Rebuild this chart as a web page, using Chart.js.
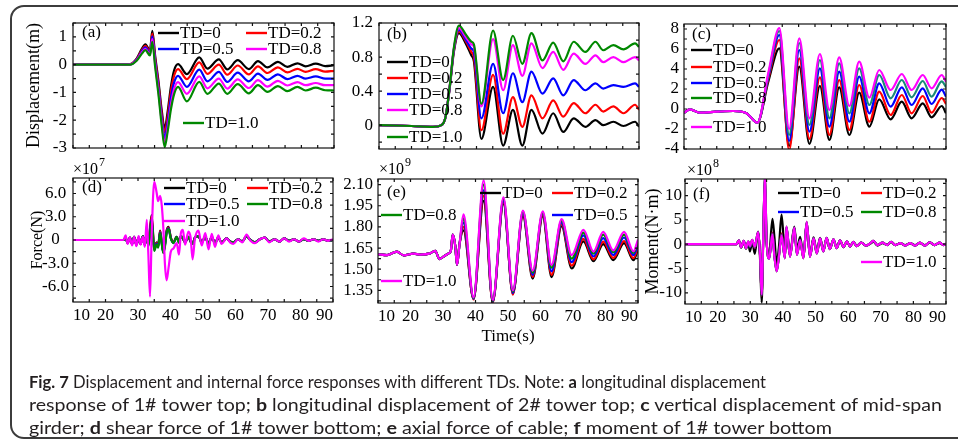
<!DOCTYPE html>
<html><head><meta charset="utf-8">
<script src="https://cdn.jsdelivr.net/npm/chart.js@4.4.1/dist/chart.umd.min.js"></script>
<style>
html,body{margin:0;padding:0;background:#fff;width:958px;height:443px;overflow:hidden;}
#frame{position:absolute;left:10px;top:5px;width:1000px;height:434px;border:2px solid #3c3c3c;border-radius:14px;box-sizing:border-box;}
canvas{position:absolute;left:0;top:0;}
#cap{position:absolute;left:29px;top:370px;font-family:Lato,'Open Sans',sans-serif;font-size:17px;line-height:23px;color:#231f20;white-space:nowrap;}
#cap span{display:block;width:max-content;transform-origin:0 0;}
</style></head><body>
<div id="frame"></div>
<canvas id="pa" width="958" height="443"></canvas>
<canvas id="pb" width="958" height="443"></canvas>
<canvas id="pc" width="958" height="443"></canvas>
<canvas id="pd" width="958" height="443"></canvas>
<canvas id="pe" width="958" height="443"></canvas>
<canvas id="pf" width="958" height="443"></canvas>
<div id="cap"><span><b>Fig. 7</b> Displacement and internal force responses with different TDs. Note: <b>a</b> longitudinal displacement</span><span>response of 1# tower top; <b>b</b> longitudinal displacement of 2# tower top; <b>c</b> vertical displacement of mid-span</span><span>girder; <b>d</b> shear force of 1# tower bottom; <b>e</b> axial force of cable; <b>f</b> moment of 1# tower bottom</span></div>
<script>
// ---------- shared ----------
const seriesNames = ['TD=0', 'TD=0.2', 'TD=0.5', 'TD=0.8', 'TD=1.0'];
const xTicks = [10, 20, 30, 40, 50, 60, 70, 80, 90];

// ---------- (a) longitudinal displacement 1# tower top (m) ----------
const aTime = [10, 20, 27.5, 29.5, 31, 32.2, 33.6, 34.3, 35.2, 36.2, 37.2, 38.1, 39, 40, 41, 42.2, 44.9, 48.7, 51.2, 54.7, 57.3, 60.5, 63.9, 66.7, 69.6, 72.8, 75.7, 78.8, 81.3, 84.4, 87.3, 90];
const aTD0  = [0, 0, 0.02, 0.22, 0.55, 0.73, 0.5, 1.22, 0.3, -0.6, -1.65, -2.3, -1.7, -0.8, -0.2, 0.02, -0.34, 0.26, -0.14, 0.19, -0.17, 0.16, -0.16, 0.13, -0.1, 0.1, -0.08, 0.05, -0.06, 0.04, -0.05, -0.02];
const aTD02 = [0, 0, 0.02, 0.2, 0.5, 0.68, 0.45, 1.12, 0.2, -0.72, -1.78, -2.45, -1.88, -0.98, -0.4, -0.16, -0.52, 0.08, -0.33, 0.0, -0.36, -0.03, -0.35, -0.06, -0.3, -0.1, -0.28, -0.15, -0.26, -0.16, -0.25, -0.22];
const aTD05 = [0, 0, 0.01, 0.18, 0.46, 0.62, 0.4, 1.02, 0.1, -0.84, -1.93, -2.65, -2.08, -1.2, -0.64, -0.4, -0.8, -0.18, -0.6, -0.26, -0.62, -0.29, -0.6, -0.32, -0.55, -0.35, -0.52, -0.4, -0.5, -0.42, -0.5, -0.5];
const aTD08 = [0, 0, 0.01, 0.16, 0.42, 0.57, 0.36, 0.92, 0.0, -0.96, -2.08, -2.85, -2.28, -1.45, -0.87, -0.63, -1.05, -0.42, -0.85, -0.5, -0.86, -0.53, -0.84, -0.56, -0.79, -0.58, -0.75, -0.63, -0.74, -0.66, -0.74, -0.74];
const aTD10 = [0, 0, 0.0, 0.14, 0.38, 0.52, 0.33, 0.82, -0.1, -1.08, -2.2, -2.97, -2.42, -1.62, -1.06, -0.8, -1.32, -0.62, -1.05, -0.68, -1.05, -0.7, -1.03, -0.74, -0.98, -0.77, -0.95, -0.8, -0.93, -0.83, -0.92, -0.93];
const aYTicks = [-3, -2, -1, 0, 1];
const aYLabels = ['-3', '-2', '-1', '0', '1'];

// ---------- (b) longitudinal displacement 2# tower top (m) ----------
const bTime = [10, 20, 26.6, 29.2, 30.5, 31.8, 33, 34.6, 36.8, 38.4, 39.2, 41.5, 45.1, 48.2, 51.2, 54.1, 56.9, 60.3, 63.6, 66.7, 69.9, 73.5, 76.6, 79, 82.1, 85.2, 88.8, 90];
const bTD0  = [0, -0.01, -0.02, 0, 0.1, 0.45, 0.85, 1.08, 0.95, 0.82, 0.75, -0.16, 0.45, -0.24, 0.18, -0.24, 0.18, -0.1, 0.14, -0.08, 0.08, -0.02, 0.06, 0.0, 0.04, -0.01, 0.04, -0.02];
const bTD02 = [0, -0.01, -0.02, 0, 0.1, 0.46, 0.87, 1.1, 0.98, 0.86, 0.8, -0.06, 0.59, -0.1, 0.33, -0.02, 0.35, 0.08, 0.29, 0.1, 0.26, 0.14, 0.24, 0.16, 0.22, 0.14, 0.24, 0.18];
const bTD05 = [0, -0.01, -0.02, 0, 0.1, 0.46, 0.88, 1.12, 1.0, 0.9, 0.86, 0.08, 0.72, 0.14, 0.61, 0.27, 0.63, 0.37, 0.55, 0.35, 0.53, 0.41, 0.49, 0.43, 0.47, 0.45, 0.49, 0.45];
const bTD08 = [0, -0.01, -0.02, 0, 0.1, 0.47, 0.89, 1.14, 1.03, 0.95, 0.92, 0.22, 1.01, 0.41, 0.94, 0.58, 0.96, 0.67, 0.86, 0.65, 0.84, 0.72, 0.82, 0.74, 0.8, 0.74, 0.8, 0.76];
const bTD10 = [0, -0.01, -0.02, 0, 0.1, 0.47, 0.9, 1.17, 1.06, 0.98, 0.95, 0.25, 1.11, 0.53, 1.05, 0.72, 1.08, 0.76, 0.97, 0.75, 0.98, 0.86, 0.98, 0.88, 0.94, 0.89, 0.96, 0.92];
const bYTicks = [0, 0.4, 0.8, 1.2];
const bYLabels = ['0', '0.4', '0.8', '1.2'];

// ---------- (c) vertical displacement mid-span girder (m) ----------
const cTime = [10, 11.8, 14.8, 19.9, 25, 29.1, 32.4, 35.8, 39.1, 42.1, 45.2, 48.3, 51.5, 54.4, 57.4, 60.5, 63.5, 66.6, 69.6, 73.1, 76.5, 79.5, 82.9, 85.6, 88.7, 90];
const cTD0  = [-0.37, -0.03, -0.37, -0.27, -0.2, -0.43, -1.37, 2.8, 6.07, -3.7, 4.23, -3.5, 2.3, -3.1, 2.17, -2.6, 1.63, -1.77, 0.97, -1.03, 0.73, -0.93, 0.57, -0.83, 0.3, -0.43];
const cTD02 = [-0.37, -0.03, -0.37, -0.27, -0.2, -0.43, -1.37, 3.1, 6.9, -4.1, 5.07, -3.0, 3.17, -2.6, 2.9, -2.1, 2.4, -1.27, 1.73, -0.6, 1.4, -0.43, 1.3, -0.37, 1.1, 0.5];
const cTD05 = [-0.37, -0.03, -0.37, -0.27, -0.2, -0.43, -1.37, 3.3, 7.4, -3.2, 5.9, -2.27, 4.07, -1.77, 3.73, -1.27, 3.23, -0.43, 2.57, 0.23, 2.17, 0.4, 2.07, 0.5, 1.93, 1.23];
const cTD08 = [-0.37, -0.03, -0.37, -0.27, -0.2, -0.43, -1.37, 3.5, 7.8, -2.6, 6.6, -1.6, 4.9, -0.93, 4.57, -0.43, 4.07, 0.4, 3.4, 1.07, 2.9, 1.17, 2.8, 1.23, 2.77, 2.17];
const cTD10 = [-0.37, -0.03, -0.37, -0.27, -0.2, -0.43, -1.37, 3.7, 8.1, -2.0, 7.07, -0.93, 5.5, -0.1, 5.17, 0.3, 4.73, 1.13, 3.9, 1.9, 3.5, 1.9, 3.4, 2.07, 3.4, 2.73];
const cYTicks = [-4, -2, 0, 2, 4, 6, 8];
const cYLabels = ['-4', '-2', '0', '2', '4', '6', '8'];

// ---------- (d) shear force 1# tower bottom (x1e7 N) ----------
const dTime = [10, 25.5, 26.2, 26.8, 27.5, 28.2, 28.8, 29.5, 30.2, 30.8,
  31.5, 32.1, 32.7, 33.2, 33.7, 34.2, 35.0, 35.7, 36.2, 36.8,
  37.3, 37.8, 38.3, 38.8, 39.4, 40.1, 40.9, 41.9, 42.6, 43.2,
  43.8, 44.5, 45.5, 46.2, 46.8, 47.5, 48.6, 49.6, 50.7, 51.7,
  52.7, 53.7, 54.7, 55.7, 57.3, 58.3, 59.3, 60.8, 62.1, 63.4,
  64.6, 66, 67.5, 69, 70.4, 72, 73.5, 75, 76.5, 78,
  79.5, 81, 82.5, 84, 85.5, 87, 88.5, 90];
const dTD0 = [0, 0, 0.3, -0.4, 0.3, -0.5, 0.4, -0.6, 0.3, -0.5,
  0.5, -0.6, 0.8, -0.5, 1.5, 3.2, -1.0, -0.3, -0.7, 1.2,
  -0.2, -1.5, -0.5, 1.2, 1.7, 0.3, -0.3, 0.4, -0.3, 0.5,
  0.2, -0.3, 0.4, -0.2, -0.5, 0.3, 0.5, -0.3, 0.4, -0.5,
  0.4, -0.4, 0.3, -0.3, 0.2, -0.2, -0.3, 0.1, -0.2, 0.5,
  0.0, -0.3, 0.1, 0.3, -0.2, 0.1, -0.2, 0.2, -0.1, 0.1,
  -0.2, 0.1, -0.1, 0.1, -0.1, 0.1, -0.1, 0];
const dTD02 = [0, 0, 0.3, -0.4, 0.3, -0.5, 0.4, -0.6, 0.3, -0.5,
  0.5, -0.6, 0.7, -0.6, 1.3, 3.0, -1.1, -0.4, -0.8, 1.1,
  -0.3, -1.5, -0.6, 1.1, 1.6, 0.3, -0.3, 0.4, -0.3, 0.5,
  0.2, -0.3, 0.4, -0.2, -0.5, 0.3, 0.5, -0.3, 0.4, -0.5,
  0.4, -0.4, 0.3, -0.3, 0.2, -0.2, -0.3, 0.1, -0.2, 0.5,
  0.0, -0.3, 0.1, 0.3, -0.2, 0.1, -0.2, 0.2, -0.1, 0.1,
  -0.2, 0.1, -0.1, 0.1, -0.1, 0.1, -0.1, 0];
const dTD05 = [0, 0, 0.3, -0.4, 0.3, -0.5, 0.4, -0.6, 0.3, -0.5,
  0.5, -0.6, 0.6, -0.7, 1.0, 2.7, -1.3, -0.5, -0.9, 1.0,
  -0.4, -1.6, -0.7, 1.0, 1.5, 0.2, -0.4, 0.4, -0.3, 0.5,
  0.2, -0.3, 0.4, -0.2, -0.5, 0.3, 0.5, -0.3, 0.4, -0.5,
  0.4, -0.4, 0.3, -0.3, 0.2, -0.2, -0.3, 0.1, -0.2, 0.5,
  0.0, -0.3, 0.1, 0.3, -0.2, 0.1, -0.2, 0.2, -0.1, 0.1,
  -0.2, 0.1, -0.1, 0.1, -0.1, 0.1, -0.1, 0];
const dTD08 = [0, 0, 0.3, -0.4, 0.3, -0.5, 0.4, -0.6, 0.3, -0.5,
  0.5, -0.6, 0.5, -0.8, 0.8, 2.4, -1.4, -0.6, -1.0, 0.9,
  -0.5, -1.7, -0.8, 0.9, 1.4, 0.2, -0.4, 0.4, -0.3, 0.5,
  0.2, -0.3, 0.4, -0.2, -0.5, 0.3, 0.5, -0.3, 0.4, -0.5,
  0.4, -0.4, 0.3, -0.3, 0.2, -0.2, -0.3, 0.1, -0.2, 0.5,
  0.0, -0.3, 0.1, 0.3, -0.2, 0.1, -0.2, 0.2, -0.1, 0.1,
  -0.2, 0.1, -0.1, 0.1, -0.1, 0.1, -0.1, 0];
const dTD10 = [0, 0, 0.6, -0.5, 0.3, -0.7, 0.4, -0.8, 0.5, -0.6,
  0.4, -0.9, 2.6, -2.0, -7.3, 0.5, 7.5, 6.2, 5.0, 5.7,
  4.5, 1.5, -3.2, -5.2, -3.6, -1.5, -1.1, -0.4, -1.9, 0.9,
  1.3, -0.6, 1.1, 0.3, -2.5, 0.1, 1.2, -0.7, 0.9, -1.2,
  0.8, -0.9, 0.6, -0.5, 0.2, -0.3, -0.5, 0.1, -0.3, 0.7,
  -0.1, -0.4, 0.1, 0.3, -0.3, 0.1, -0.2, 0.2, -0.2, 0.1,
  -0.2, 0.2, -0.1, 0.1, -0.2, 0.1, -0.1, 0.1];
const dYTicks = [-6, -3, 0, 3, 6];
const dYLabels = ['-6.0', '-3.0', '0', '3.0', '6.0'];

// ---------- (e) axial force of cable (x1e9 N) ----------
const eTime = [10, 12.8, 15.8, 17.9, 20.9, 23, 26, 27.6, 28.9, 30.2, 31.7, 32.4, 33.0, 33.8, 34.3, 35.1, 36.3, 39.4, 42.5, 45.3, 48.6, 51.5, 54.6, 57.6, 60.7, 63.4, 66.5, 69.6, 73.2, 76.3, 79.3, 82.4, 85.7, 88.6, 90];
const eTD0  = [1.606, 1.600, 1.625, 1.598, 1.61, 1.604, 1.612, 1.63, 1.572, 1.59, 1.612, 1.63, 1.745, 1.66, 1.53, 1.68, 1.775, 1.29, 1.985, 1.27, 1.965, 1.325, 1.877, 1.433, 1.877, 1.444, 1.805, 1.505, 1.697, 1.557, 1.678, 1.564, 1.685, 1.564, 1.64];
const eTD02 = [1.606, 1.600, 1.625, 1.598, 1.61, 1.604, 1.612, 1.63, 1.572, 1.59, 1.612, 1.63, 1.745, 1.66, 1.53, 1.68, 1.80, 1.285, 2.02, 1.262, 1.975, 1.32, 1.89, 1.445, 1.885, 1.46, 1.818, 1.525, 1.715, 1.57, 1.695, 1.58, 1.70, 1.578, 1.655];
const eTD05 = [1.606, 1.600, 1.625, 1.598, 1.61, 1.604, 1.612, 1.63, 1.572, 1.59, 1.612, 1.63, 1.745, 1.66, 1.53, 1.68, 1.83, 1.29, 2.06, 1.27, 1.985, 1.33, 1.90, 1.46, 1.895, 1.485, 1.83, 1.55, 1.74, 1.59, 1.72, 1.60, 1.725, 1.60, 1.675];
const eTD08 = [1.606, 1.600, 1.625, 1.598, 1.61, 1.604, 1.612, 1.63, 1.572, 1.59, 1.612, 1.63, 1.745, 1.66, 1.53, 1.68, 1.86, 1.295, 2.10, 1.275, 2.0, 1.34, 1.91, 1.475, 1.90, 1.51, 1.845, 1.575, 1.76, 1.61, 1.745, 1.62, 1.745, 1.615, 1.695];
const eTD10 = [1.606, 1.600, 1.625, 1.598, 1.61, 1.604, 1.612, 1.63, 1.572, 1.59, 1.612, 1.63, 1.745, 1.66, 1.53, 1.68, 1.89, 1.30, 2.13, 1.28, 2.01, 1.35, 1.915, 1.49, 1.91, 1.53, 1.855, 1.60, 1.78, 1.625, 1.765, 1.633, 1.765, 1.627, 1.71];
const eYTicks = [1.35, 1.5, 1.65, 1.8, 1.95, 2.1];
const eYLabels = ['1.35', '1.50', '1.65', '1.80', '1.95', '2.10'];

// ---------- (f) moment of 1# tower bottom (x1e8 N·m) ----------
const fTime = [10, 25.8, 26.5, 27.2, 28, 28.7, 29.4, 29.9, 30.6, 31.4,
  32.4, 33.0, 33.5, 34.0, 34.5, 35.0, 35.8, 36.8, 37.4, 38.1,
  38.8, 39.6, 40.6, 41.1, 42.2, 43.5, 44.3, 45.3, 46.3, 47.3,
  48.3, 49.4, 50.4, 51.4, 52.4, 53.4, 54.4, 55.5, 56.5, 57.5,
  58.6, 59.6, 60.6, 61.6, 62.6, 64, 65.5, 67, 67.7, 69,
  70.5, 72, 73.2, 74.5, 76, 77.5, 79, 80.5, 82, 83.5,
  85, 86.5, 88, 89.3, 90];
const fTD0 = [0, 0, 0.7, -0.7, 0.5, -0.9, 0.3, -1.5, 0.5, -2.0,
  2.6, -3.0, -12.0, 1.5, 12.5, 0.5, -2.0, 5.2, 1.5, -4.0,
  -0.5, 6.1, -1.5, 2.5, -2.0, 3.6, -1.0, 1.5, -2.5, 4.2,
  -2.2, 1.4, -1.6, 1.3, -1.3, 1.2, -0.9, 0.9, -0.7, 0.7,
  -0.6, 0.5, -0.4, 0.4, -0.3, 0.3, -0.3, 0.2, 0.5, -0.3,
  0.2, -0.1, 0.4, -0.2, 0.2, -0.2, 0.2, -0.2, 0.2, -0.2,
  0.3, -0.2, 0.2, -0.1, 0];
const fTD02 = [0, 0, 0.8, -0.6, 0.7, -0.8, 0.5, -0.6, 0.8, -0.8,
  2.5, -2.2, -10.6, 2.0, 13.5, 1.0, -2.8, 2.4, -2.2, -5.4,
  -2.2, 2.2, -2.7, 3.4, -2.5, 3.4, -2.0, 0.9, -2.8, 4.5,
  -2.5, 1.2, -1.9, 1.2, -1.5, 1.3, -1.0, 1.0, -0.8, 0.8,
  -0.6, 0.6, -0.5, 0.5, -0.4, 0.3, -0.3, 0.3, 0.7, -0.2,
  0.3, -0.2, 0.5, -0.2, 0.2, -0.3, 0.2, -0.3, 0.3, -0.3,
  0.4, -0.2, 0.3, -0.2, 0.1];
const fTD05 = [0, 0, 0.8, -0.6, 0.7, -0.8, 0.5, -0.6, 0.8, -0.7,
  2.5, -2.1, -10.5, 2.0, 13.5, 1.0, -2.9, 2.2, -2.3, -5.5,
  -2.3, 2.0, -2.8, 3.5, -2.5, 3.4, -2.1, 0.9, -2.8, 4.5,
  -2.5, 1.2, -1.9, 1.2, -1.5, 1.3, -1.0, 1.0, -0.8, 0.8,
  -0.6, 0.6, -0.5, 0.5, -0.4, 0.3, -0.3, 0.3, 0.7, -0.2,
  0.3, -0.2, 0.5, -0.2, 0.2, -0.3, 0.2, -0.3, 0.3, -0.3,
  0.4, -0.2, 0.3, -0.2, 0.1];
const fTD08 = [0, 0, 0.8, -0.6, 0.7, -0.8, 0.6, -0.5, 0.9, -0.6,
  2.5, -2.0, -10.4, 2.0, 13.5, 1.0, -3.0, 2.1, -2.4, -5.6,
  -2.4, 1.9, -2.9, 3.6, -2.6, 3.4, -2.2, 0.8, -2.9, 4.6,
  -2.6, 1.2, -1.9, 1.2, -1.5, 1.3, -1.0, 1.0, -0.8, 0.8,
  -0.6, 0.6, -0.5, 0.5, -0.4, 0.3, -0.3, 0.3, 0.7, -0.2,
  0.3, -0.2, 0.5, -0.2, 0.2, -0.3, 0.2, -0.3, 0.3, -0.3,
  0.4, -0.2, 0.3, -0.2, 0.1];
const fTD10 = [0, 0, 0.8, -0.6, 0.7, -0.8, 0.6, -0.4, 0.9, -0.5,
  2.5, -2.0, -10.3, 2.0, 13.5, 1.0, -3.0, 2.0, -2.5, -5.6,
  -2.5, 1.8, -2.9, 3.6, -2.6, 3.4, -2.2, 0.8, -2.9, 4.6,
  -2.6, 1.2, -1.9, 1.2, -1.5, 1.3, -1.0, 1.0, -0.8, 0.8,
  -0.6, 0.6, -0.5, 0.5, -0.4, 0.3, -0.3, 0.3, 0.7, -0.2,
  0.3, -0.2, 0.5, -0.2, 0.2, -0.3, 0.2, -0.3, 0.3, -0.3,
  0.4, -0.2, 0.3, -0.2, 0.1];
const fYTicks = [-10, -5, 0, 5, 10];
const fYLabels = ['-10', '-5', '0', '5', '10'];

// ---------- drawing ----------
const SERIF = "'Liberation Serif','Times New Roman',serif";
const BLK = '#000000', RED = '#ff0000', BLU = '#0000ff', MAG = '#ff00ff', GRN = '#008800';

const decoPlugin = {
  id: 'deco',
  afterDatasetsDraw(chart, args, o) {
    const ctx = chart.ctx, ca = chart.chartArea;
    const xs = chart.scales.x, ys = chart.scales.y;
    ctx.save();
    ctx.strokeStyle = '#111';
    ctx.lineWidth = 1.2;
    ctx.strokeRect(ca.left, ca.top, ca.right - ca.left, ca.bottom - ca.top);
    ctx.beginPath();
    for (let k = Math.ceil(xs.min / o.xStep - 1e-6); k * o.xStep <= xs.max + 1e-6; k++) {
      const px = xs.getPixelForValue(k * o.xStep);
      ctx.moveTo(px, ca.bottom); ctx.lineTo(px, ca.bottom - o.tick);
      ctx.moveTo(px, ca.top); ctx.lineTo(px, ca.top + o.tick);
    }
    for (let k = Math.ceil(ys.min / o.yStep - 1e-6); k * o.yStep <= ys.max + 1e-6; k++) {
      const py = ys.getPixelForValue(k * o.yStep);
      ctx.moveTo(ca.left, py); ctx.lineTo(ca.left + o.tick, py);
      ctx.moveTo(ca.right, py); ctx.lineTo(ca.right - o.tick, py);
    }
    ctx.stroke();
    ctx.font = o.font + 'px ' + SERIF;
    ctx.textBaseline = 'middle';
    ctx.textAlign = 'left';
    ctx.fillStyle = '#000';
    o.items.forEach(it => {
      const ds = chart.data.datasets[it.ds];
      ctx.strokeStyle = it.color || ds.borderColor;
      ctx.lineWidth = 2.4;
      ctx.beginPath();
      ctx.moveTo(it.x, it.y); ctx.lineTo(it.x + o.lineLen, it.y);
      ctx.stroke();
      ctx.fillText(ds.label, it.x + o.lineLen + 1, it.y + 1);
    });
    ctx.fillText(o.label.text, o.label.x, o.label.y);
    if (o.exp) {
      ctx.font = '16px ' + SERIF;
      ctx.fillText('\u00d710', o.exp.x, o.exp.y);
      const w = ctx.measureText('\u00d710').width;
      ctx.font = '12px ' + SERIF;
      ctx.fillText(o.exp.pow, o.exp.x + w + 1, o.exp.y - 7);
    }
    ctx.restore();
  }
};

function makePanel(id, cfg) {
  const datasets = cfg.series.map((vals, i) => ({
    label: seriesNames[i],
    data: vals.map((v, k) => ({ x: cfg.time[k], y: v })),
    borderColor: cfg.colors[i],
    borderWidth: 2.2,
    pointRadius: 0,
    cubicInterpolationMode: 'monotone',
    order: 4 - i,
    fill: false
  }));
  const W = cfg.axisW, H = cfg.axisH, A = cfg.area;
  new Chart(document.getElementById(id), {
    type: 'line',
    data: { datasets },
    options: {
      responsive: false, animation: false, events: [],
      layout: { padding: { left: A[0] - W, top: A[1], right: 958 - A[2], bottom: 443 - A[3] - H } },
      plugins: { legend: { display: false }, tooltip: { enabled: false }, deco: cfg.deco },
      scales: {
        x: {
          type: 'linear', min: 10, max: 90,
          afterBuildTicks: s => { s.ticks = xTicks.map(v => ({ value: v })); },
          afterFit: s => { s.height = H; },
          grid: { display: false, drawTicks: false }, border: { display: false },
          ticks: { display: cfg.xLabels, padding: 3, maxRotation: 0, autoSkip: false, align: 'inner', color: '#000',
                   font: { family: SERIF, size: 17 }, callback: v => String(v) },
          title: cfg.xTitle ? { display: true, text: cfg.xTitle, color: '#000', font: { family: SERIF, size: 17 },
                   padding: { top: 0, bottom: cfg.xTitlePad } } : { display: false }
        },
        y: {
          type: 'linear', min: cfg.yMin, max: cfg.yMax,
          afterBuildTicks: s => { s.ticks = cfg.yTicks.map(v => ({ value: v })); },
          afterFit: s => { s.width = W; },
          grid: { display: false, drawTicks: false }, border: { display: false },
          ticks: { padding: cfg.yPad, crossAlign: cfg.cross || 'near', autoSkip: false, color: '#000',
                   font: { family: SERIF, size: 17 }, callback: v => cfg.yLabels[cfg.yTicks.indexOf(v)] },
          title: cfg.yTitle ? { display: true, text: cfg.yTitle, color: '#000', font: { family: SERIF, size: cfg.yTitleSize },
                   padding: { top: cfg.yTitlePad, bottom: 0 } } : { display: false }
        }
      }
    },
    plugins: [decoPlugin]
  });
}

makePanel('pa', {
  time: aTime, series: [aTD0, aTD02, aTD05, aTD08, aTD10], colors: [BLK, RED, BLU, MAG, GRN],
  area: [73, 23, 334, 148], axisW: 70, axisH: 2, xLabels: false,
  yMin: -3, yMax: 1.5, yTicks: aYTicks, yLabels: aYLabels, yPad: 6,
  yTitle: 'Displacement(m)', yTitleSize: 18, yTitlePad: 20,
  deco: { xStep: 5, yStep: 0.5, tick: 3, font: 17, lineLen: 21, label: { text: '(a)', x: 82, y: 33 },
    items: [{ ds: 0, x: 158, y: 33 }, { ds: 1, x: 246, y: 33 }, { ds: 2, x: 158, y: 49 }, { ds: 3, x: 246, y: 49 }, { ds: 4, x: 183, y: 123 }] }
});
makePanel('pb', {
  time: bTime, series: [bTD0, bTD02, bTD05, bTD08, bTD10], colors: [BLK, RED, BLU, MAG, GRN],
  area: [379, 23, 639, 149], axisW: 50, axisH: 2, xLabels: false,
  yMin: -0.28, yMax: 1.2, yTicks: bYTicks, yLabels: bYLabels, yPad: 6,
  deco: { xStep: 5, yStep: 0.2, tick: 3, font: 17, lineLen: 21, label: { text: '(b)', x: 387, y: 35 },
    items: [{ ds: 0, x: 387, y: 62 }, { ds: 1, x: 387, y: 78 }, { ds: 2, x: 387, y: 94 }, { ds: 3, x: 387, y: 110 }, { ds: 4, x: 387, y: 137 }] }
});
makePanel('pc', {
  time: cTime, series: [cTD0, cTD02, cTD05, cTD08, cTD10], colors: [BLK, RED, BLU, '#1a8a78', MAG],
  area: [684, 24, 946, 149], axisW: 40, axisH: 2, xLabels: false,
  yMin: -4, yMax: 8.5, yTicks: cYTicks, yLabels: cYLabels, yPad: 5,
  deco: { xStep: 5, yStep: 1, tick: 3, font: 17, lineLen: 21, label: { text: '(c)', x: 692, y: 35 },
    items: [{ ds: 0, x: 691, y: 50 }, { ds: 1, x: 691, y: 67 }, { ds: 2, x: 691, y: 83 }, { ds: 3, x: 691, y: 98, color: GRN }, { ds: 4, x: 691, y: 127 }] }
});
makePanel('pd', {
  time: dTime, series: [dTD0, dTD02, dTD05, dTD08, dTD10], colors: [BLK, RED, BLU, GRN, MAG],
  area: [73, 178, 333, 302], axisW: 70, axisH: 25, xLabels: true,
  yMin: -8, yMax: 8, yTicks: dYTicks, yLabels: dYLabels, yPad: 4, cross: 'center',
  yTitle: 'Force(N)', yTitleSize: 16, yTitlePad: 25,
  deco: { xStep: 5, yStep: 1.5, tick: 3, font: 17, lineLen: 21, label: { text: '(d)', x: 82, y: 188 },
    exp: { x: 73, y: 170, pow: '7' },
    items: [{ ds: 0, x: 164, y: 188 }, { ds: 1, x: 247, y: 188 }, { ds: 2, x: 164, y: 204 }, { ds: 3, x: 247, y: 204 }, { ds: 4, x: 164, y: 221 }] }
});
makePanel('pe', {
  time: eTime, series: [eTD0, eTD02, eTD05, eTD08, eTD10], colors: [BLK, RED, BLU, GRN, MAG],
  area: [378, 179, 638, 303], axisW: 50, axisH: 50, xLabels: true, xTitle: 'Time(s)', xTitlePad: 6,
  yMin: 1.26, yMax: 2.14, yTicks: eYTicks, yLabels: eYLabels, yPad: 5,
  deco: { xStep: 5, yStep: 0.075, tick: 3, font: 17, lineLen: 21, label: { text: '(e)', x: 387, y: 193 },
    exp: { x: 379, y: 170, pow: '9' },
    items: [{ ds: 0, x: 480, y: 193 }, { ds: 1, x: 552, y: 193 }, { ds: 3, x: 381, y: 215 }, { ds: 2, x: 552, y: 215 }, { ds: 4, x: 381, y: 281 }] }
});
makePanel('pf', {
  time: fTime, series: [fTD0, fTD02, fTD05, fTD08, fTD10], colors: [BLK, RED, BLU, GRN, MAG],
  area: [685, 179, 946, 304], axisW: 60, axisH: 25, xLabels: true,
  yMin: -12.3, yMax: 13.4, yTicks: fYTicks, yLabels: fYLabels, yPad: 3,
  yTitle: 'Moment(N\u00b7m)', yTitleSize: 18, yTitlePad: 17,
  deco: { xStep: 5, yStep: 2.5, tick: 3, font: 17, lineLen: 21, label: { text: '(f)', x: 693, y: 195 },
    exp: { x: 687, y: 171, pow: '8' },
    items: [{ ds: 0, x: 778, y: 193 }, { ds: 1, x: 861, y: 193 }, { ds: 2, x: 778, y: 212 }, { ds: 3, x: 861, y: 212 }, { ds: 4, x: 861, y: 262 }] }
});

// caption: fit each line to the reference line lengths
const capLineWidths = [737, 913, 803];
document.querySelectorAll('#cap span').forEach((s, i) => {
  const w = s.getBoundingClientRect().width;
  s.style.transform = 'scaleX(' + (capLineWidths[i] / w) + ')';
});
</script>
</body></html>
